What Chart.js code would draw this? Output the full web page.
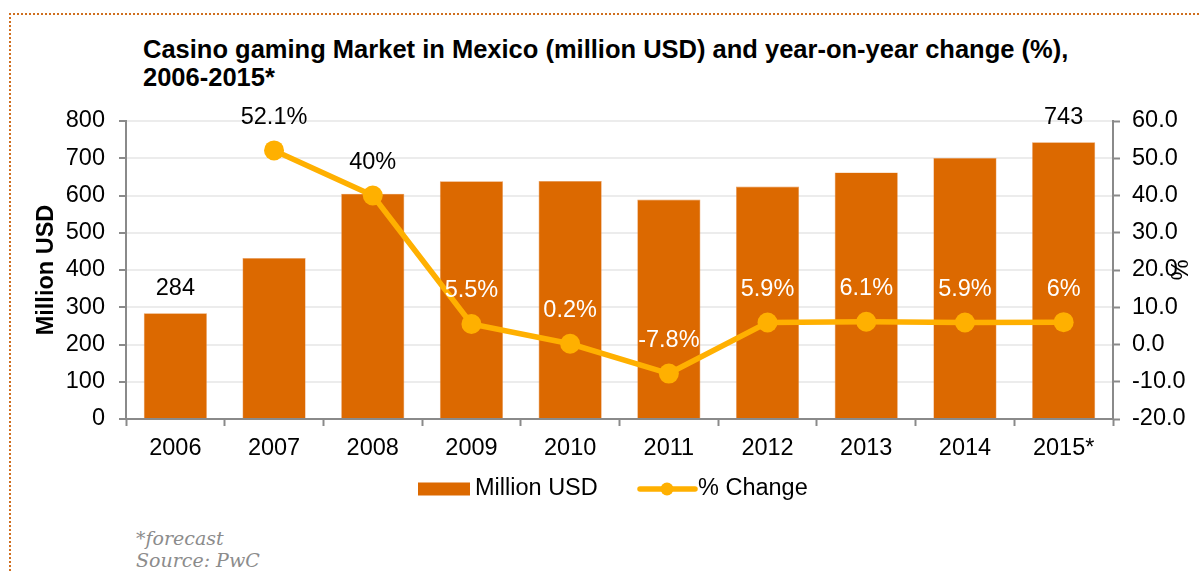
<!DOCTYPE html>
<html>
<head>
<meta charset="utf-8">
<script src="https://cdn.jsdelivr.net/npm/chart.js@4"></script>
<style>
  html, body { margin: 0; padding: 0; background: #fff; }
  body { width: 1201px; height: 572px; position: relative; overflow: hidden; }
  .frame {
    position: absolute; left: 9px; top: 13px; width: 1300px; height: 700px;
    border-top: 2px dotted #cf6f1f; border-left: 2px dotted #cf6f1f;
  }
  .title {
    position: absolute; left: 143px; top: 35px;
    font-family: "Liberation Sans", Arial, sans-serif; font-weight: bold;
    font-size: 25.5px; line-height: 28px; color: #000; white-space: nowrap;
  }
  .note {
    position: absolute; left: 136px; top: 527px;
    font-family: "DejaVu Serif", Georgia, serif; font-style: italic;
    font-size: 19px; line-height: 22px; color: #8c8c8c;
  }
  #wrap { position: absolute; left: 0; top: 0; width: 1201px; height: 572px; }
</style>
</head>
<body>
<div class="frame"></div>
<div class="title">Casino gaming Market in Mexico (million USD) and year-on-year change (%),<br>2006-2015*</div>
<div class="note">*forecast<br>Source: PwC</div>
<div id="wrap"><canvas id="c" width="1201" height="572"></canvas></div>
<script>
// Casino gaming market in Mexico, 2006-2015 (2015 forecast)
const years = ['2006', '2007', '2008', '2009', '2010', '2011', '2012', '2013', '2014', '2015*'];
const marketMillionUSD = [284, 432, 605, 638, 639, 589, 624, 662, 701, 743];
const yoyChangePct = [null, 52.1, 40, 5.5, 0.2, -7.8, 5.9, 6.1, 5.9, 6];
const leftTicks = [0, 100, 200, 300, 400, 500, 600, 700, 800];
const rightTicks = [-20, -10, 0, 10, 20, 30, 40, 50, 60];
const labelledBars = ['2006', '2015*'];

const BAR_COLOR = '#dc6900';
const LINE_COLOR = '#ffb000';
const FONT = '"Liberation Sans", Arial, sans-serif';
const FS = 23.5;

function datasetIndex(chart, type) {
  return chart.data.datasets.findIndex(d => d.type === type);
}

// value labels above the bars (selected years) and above each line point
const valueLabels = {
  id: 'valueLabels',
  afterDatasetsDraw(chart) {
    const ctx = chart.ctx;
    ctx.save();
    ctx.font = FS + 'px ' + FONT;
    ctx.textAlign = 'center';
    ctx.textBaseline = 'middle';
    const barMeta = chart.getDatasetMeta(datasetIndex(chart, 'bar'));
    barMeta.data.forEach((bar, i) => {
      if (!labelledBars.includes(years[i])) return;
      ctx.fillStyle = '#000';
      ctx.fillText(String(marketMillionUSD[i]), bar.x, bar.y - 25);
    });
    const lineMeta = chart.getDatasetMeta(datasetIndex(chart, 'line'));
    lineMeta.data.forEach((pt, i) => {
      const v = yoyChangePct[i];
      if (v === null) return;
      const y = pt.y - 33;
      const bar = barMeta.data[i];
      ctx.fillStyle = y > bar.y + 8 ? '#fff' : '#000';
      ctx.fillText(v + '%', pt.x, y);
    });
    ctx.restore();
  }
};

// legend row under the axis: filled box for the bars, line with marker for the change series
const legendRow = {
  id: 'legendRow',
  afterDraw(chart) {
    const ctx = chart.ctx;
    ctx.save();
    ctx.font = FS + 'px ' + FONT;
    ctx.textBaseline = 'middle';
    ctx.textAlign = 'left';
    const y = 489;
    const bars = chart.data.datasets[datasetIndex(chart, 'bar')];
    const line = chart.data.datasets[datasetIndex(chart, 'line')];
    let x = 418;
    ctx.fillStyle = bars.backgroundColor;
    ctx.fillRect(x, y - 6.5, 52, 13);
    ctx.fillStyle = '#000';
    ctx.fillText(bars.label, x + 57, y);
    x = 640;
    ctx.strokeStyle = line.borderColor;
    ctx.lineWidth = line.borderWidth;
    ctx.lineCap = 'round';
    ctx.beginPath();
    ctx.moveTo(x, y); ctx.lineTo(x + 55, y);
    ctx.stroke();
    ctx.fillStyle = line.pointBackgroundColor;
    ctx.beginPath();
    ctx.arc(x + 27, y, 6.5, 0, Math.PI * 2);
    ctx.fill();
    ctx.fillStyle = '#000';
    ctx.fillText(line.label, x + 58, y);
    ctx.restore();
  }
};

new Chart(document.getElementById('c'), {
  data: {
    labels: years,
    datasets: [
      {
        type: 'line',
        label: '% Change',
        data: yoyChangePct,
        yAxisID: 'yPct',
        borderColor: LINE_COLOR,
        backgroundColor: LINE_COLOR,
        pointBackgroundColor: LINE_COLOR,
        pointBorderColor: LINE_COLOR,
        borderWidth: 5.5,
        pointRadius: 10,
        pointBorderWidth: 0,
        tension: 0,
        order: 0
      },
      {
        type: 'bar',
        label: 'Million USD',
        data: marketMillionUSD,
        yAxisID: 'y',
        backgroundColor: BAR_COLOR,
        borderColor: '#e89a5a',
        borderWidth: 0.6,
        barPercentage: 0.64,
        categoryPercentage: 1,
        order: 1
      }
    ]
  },
  options: {
    responsive: false,
    animation: false,
    events: [],
    layout: { padding: { top: 121, bottom: 93, left: 0, right: 0 } },
    plugins: { legend: { display: false }, tooltip: { enabled: false } },
    scales: {
      x: {
        offset: true,
        grid: { display: true, drawOnChartArea: false, offset: true, tickLength: 7, tickColor: '#8a8a8a', tickWidth: 2 },
        border: { color: '#8a8a8a', width: 2 },
        ticks: { font: { family: FONT, size: FS }, color: '#000', padding: 8, maxRotation: 0 },
        afterFit(s) { s.height = 60; }
      },
      y: {
        position: 'left',
        min: 0, max: 800,
        afterBuildTicks(s) { s.ticks = leftTicks.map(v => ({ value: v })); },
        grid: { color: '#ececec', lineWidth: 2, tickLength: 7, tickColor: '#8a8a8a', tickWidth: 2 },
        border: { color: '#8a8a8a', width: 2 },
        ticks: { font: { family: FONT, size: FS }, color: '#000', padding: 14 },
        title: { display: true, text: 'Million USD', font: { family: FONT, size: FS, weight: 'bold' }, color: '#000', padding: { top: 32 } },
        afterFit(s) { s.width = 126; }
      },
      yPct: {
        position: 'right',
        min: -20, max: 60,
        afterBuildTicks(s) { s.ticks = rightTicks.map(v => ({ value: v })); },
        grid: { drawOnChartArea: false, tickLength: 7, tickColor: '#8a8a8a', tickWidth: 2 },
        border: { color: '#8a8a8a', width: 2 },
        ticks: { font: { family: FONT, size: FS }, color: '#000', padding: 12, callback: v => v.toFixed(1) },
        title: { display: true, text: '%', font: { family: FONT, size: FS }, color: '#000', padding: { top: 9 } },
        afterFit(s) { s.width = 88; }
      }
    }
  },
  plugins: [valueLabels, legendRow]
});
</script>
</body>
</html>
